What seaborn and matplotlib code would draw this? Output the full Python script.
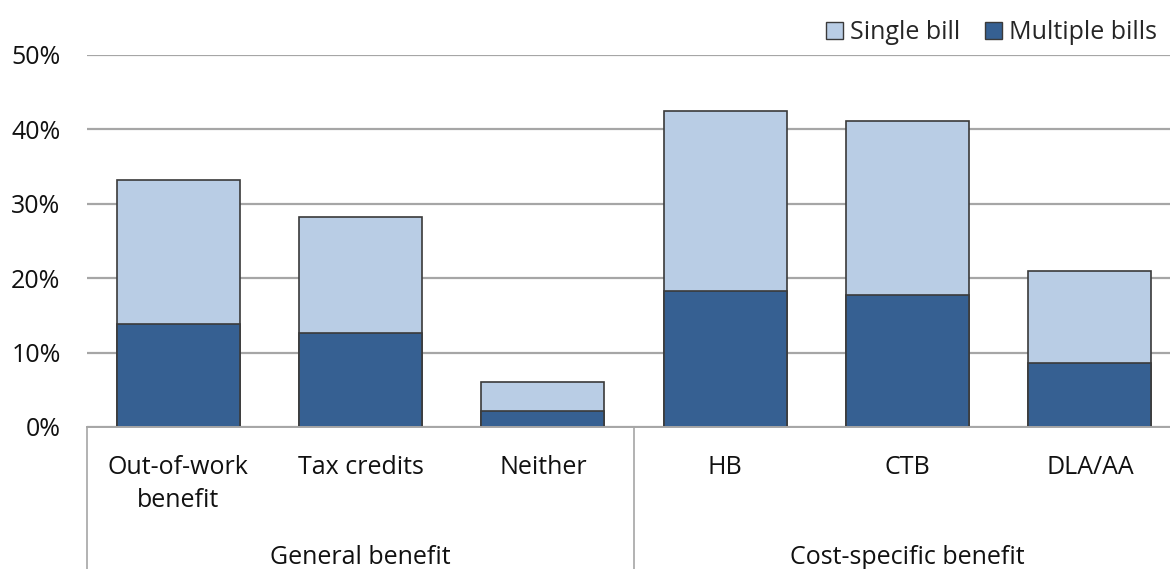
import matplotlib
matplotlib.use("Agg")
import matplotlib.pyplot as plt
import matplotlib.transforms as mtransforms
from matplotlib.patches import Patch
import pandas as pd
import seaborn as sns

# Share of households in each benefit group receiving single vs multiple bills
categories = ["Out-of-work\nbenefit", "Tax credits", "Neither", "HB", "CTB", "DLA/AA"]
groups = ["General benefit", "General benefit", "General benefit",
          "Cost-specific benefit", "Cost-specific benefit", "Cost-specific benefit"]
multiple_bills = [13.8, 12.6, 2.1, 18.3, 17.8, 8.6]
single_bill = [19.4, 15.6, 3.9, 24.2, 23.3, 12.4]
y_ticks = [0, 10, 20, 30, 40, 50]

df = pd.DataFrame({
    "category": categories,
    "group": groups,
    "multiple": multiple_bills,
    "single": single_bill,
})
df["total"] = df["multiple"] + df["single"]

sns.set_theme(style="white")
plt.rcParams["font.family"] = ["Open Sans", "DejaVu Sans"]

LIGHT = "#B9CDE5"
DARK = "#366092"
EDGE = "#3a3a3a"
GRID = "#A6A6A6"
TEXT = "#111111"
FS = 18

fig = plt.figure(figsize=(11.7, 5.69), dpi=100)
ax = fig.add_axes([87 / 1170, 1 - 427 / 569, (1181 - 87) / 1170, (427 - 55) / 569])

sns.barplot(data=df, x="category", y="total", color=LIGHT, width=0.675,
            edgecolor=EDGE, linewidth=1.2, saturation=1, ax=ax, order=categories)
sns.barplot(data=df, x="category", y="multiple", color=DARK, width=0.675,
            edgecolor=EDGE, linewidth=1.2, saturation=1, ax=ax, order=categories)

ax.set_xlim(-0.5, 5.5)
ax.set_ylim(0, 50)
ax.set_yticks(y_ticks)
ax.set_yticklabels([f"{v}%" for v in y_ticks], fontsize=FS, color=TEXT)
ax.tick_params(axis="y", length=0, pad=19)
ax.tick_params(axis="x", length=0, pad=20)
ax.set_xticks(range(len(categories)))
ax.set_xticklabels(categories, fontsize=FS, color=TEXT, linespacing=1.45)
for lab in ax.get_xticklabels():
    lab.set_verticalalignment("top")
ax.set_xlabel("")
ax.set_ylabel("")

ax.grid(axis="y", color=GRID, linewidth=1.6)
ax.set_axisbelow(True)
for side in ["top", "right", "left"]:
    ax.spines[side].set_visible(False)
ax.spines["bottom"].set_color(GRID)
ax.spines["bottom"].set_linewidth(1.4)

# Group separators below the axis, spanning down to the figure edge
trans = mtransforms.blended_transform_factory(ax.transData, fig.transFigure)
y_axis_fig = 1 - 427 / 569
for xpos in [-0.5, 2.5, 5.5]:
    ax.plot([xpos, xpos], [0, y_axis_fig], transform=trans, color=GRID,
            linewidth=1.2, clip_on=False)

# Group labels
group_names = list(dict.fromkeys(groups))
for i, name in enumerate(group_names):
    idx = [j for j, g in enumerate(groups) if g == name]
    xc = (idx[0] + idx[-1]) / 2
    ax.text(xc, 1 - 557 / 569, name, transform=trans, ha="center", va="center",
            fontsize=FS, color=TEXT)

handles = [Patch(facecolor=LIGHT, edgecolor=EDGE, linewidth=1.0, label="Single bill"),
           Patch(facecolor=DARK, edgecolor=EDGE, linewidth=1.0, label="Multiple bills")]
fig.legend(handles=handles, loc="upper right", bbox_to_anchor=(1.004, 0.995),
           ncol=2, frameon=False, fontsize=FS, handlelength=0.65, handleheight=0.65,
           handletextpad=0.3, columnspacing=1.0, borderaxespad=0.3)

fig.savefig("out.png", dpi=100)
